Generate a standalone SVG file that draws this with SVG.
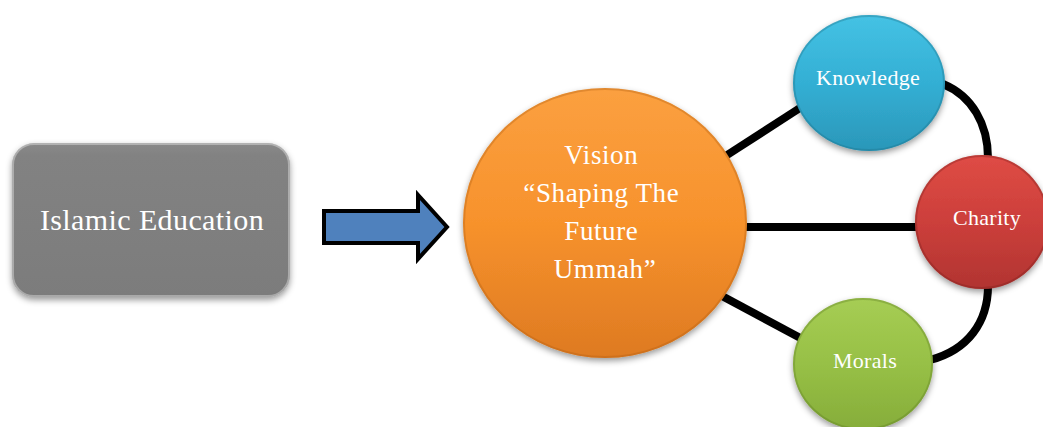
<svg xmlns="http://www.w3.org/2000/svg" width="1043" height="427" viewBox="0 0 1043 427">
  <defs>
    <style>
      .lbl { font-family: "Liberation Serif", "DejaVu Serif", serif; fill: #ffffff; text-anchor: middle; }
      .conn { fill: none; stroke: #000000; stroke-width: 8; stroke-linecap: butt; }
      .rim { fill: none; stroke-opacity: 0.35; stroke-width: 2; }
    </style>
    <filter id="shadow" x="-20%" y="-20%" width="140%" height="150%">
      <feDropShadow dx="0" dy="3" stdDeviation="3" flood-color="#000000" flood-opacity="0.4"/>
    </filter>
    <linearGradient id="gGray" x1="0" y1="0" x2="0" y2="1">
      <stop offset="0" stop-color="#8a8a8a"/>
      <stop offset="0.08" stop-color="#828282"/>
      <stop offset="1" stop-color="#7c7c7c"/>
    </linearGradient>
    <linearGradient id="gOrange" x1="0" y1="0" x2="0" y2="1">
      <stop offset="0" stop-color="#fba040"/>
      <stop offset="0.5" stop-color="#f7922c"/>
      <stop offset="1" stop-color="#de7a22"/>
    </linearGradient>
    <linearGradient id="gBlue" x1="0" y1="0" x2="0" y2="1">
      <stop offset="0" stop-color="#45c2e4"/>
      <stop offset="0.5" stop-color="#33afd4"/>
      <stop offset="1" stop-color="#2b97b9"/>
    </linearGradient>
    <linearGradient id="gRed" x1="0" y1="0" x2="0" y2="1">
      <stop offset="0" stop-color="#df4c45"/>
      <stop offset="0.5" stop-color="#cc3f3b"/>
      <stop offset="1" stop-color="#b13431"/>
    </linearGradient>
    <linearGradient id="gGreen" x1="0" y1="0" x2="0" y2="1">
      <stop offset="0" stop-color="#a6cd54"/>
      <stop offset="0.5" stop-color="#97c046"/>
      <stop offset="1" stop-color="#86ad3a"/>
    </linearGradient>
  </defs>

  <rect width="1043" height="427" fill="#ffffff"/>

  <!-- connectors between the vision and its three values -->
  <g id="connectors">
    <line class="conn" x1="724" y1="157" x2="803" y2="106"/>
    <line class="conn" x1="745" y1="227" x2="918" y2="227"/>
    <line class="conn" x1="722" y1="296" x2="806" y2="341"/>
    <path class="conn" d="M 943 84 C 972 96 988 124 988 158"/>
    <path class="conn" d="M 930 360 C 968 350 988 322 988 286"/>
  </g>

  <!-- block arrow -->
  <g id="arrow">
    <polygon points="324,211 418,211 418,195 447,227 418,259 418,243 324,243" fill="#4f81bd" stroke="#000000" stroke-width="4" stroke-linejoin="miter"/>
  </g>

  <g id="islamic-education">
    <rect x="12" y="143" width="278" height="154" rx="22" ry="22" fill="url(#gGray)" filter="url(#shadow)"/>
    <rect class="rim" x="13" y="144" width="276" height="152" rx="21" ry="21" stroke="#ffffff" stroke-opacity="0.25"/>
    <text class="lbl" x="152" y="230" font-size="30" letter-spacing="0.4">Islamic Education</text>
  </g>

  <g id="vision">
    <ellipse cx="605" cy="223" rx="142" ry="135" fill="url(#gOrange)" filter="url(#shadow)"/>
    <ellipse class="rim" cx="605" cy="223" rx="141" ry="134" stroke="#b35f12"/>
    <text class="lbl" font-size="27" letter-spacing="0.6">
      <tspan x="605" y="164">Vision</tspan>
      <tspan x="605" y="202">“Shaping The</tspan>
      <tspan x="605" y="240">Future</tspan>
      <tspan x="605" y="278">Ummah”</tspan>
    </text>
  </g>

  <g id="knowledge">
    <ellipse cx="869" cy="83" rx="76" ry="68" fill="url(#gBlue)" filter="url(#shadow)"/>
    <ellipse class="rim" cx="869" cy="83" rx="75" ry="67" stroke="#1d6f88"/>
    <text class="lbl" x="868" y="85" font-size="22" letter-spacing="0.3">Knowledge</text>
  </g>

  <g id="charity">
    <ellipse cx="982" cy="222" rx="67" ry="67" fill="url(#gRed)" filter="url(#shadow)"/>
    <ellipse class="rim" cx="982" cy="222" rx="66" ry="66" stroke="#7a1f1c"/>
    <text class="lbl" x="987" y="225" font-size="22" letter-spacing="0.3">Charity</text>
  </g>

  <g id="morals">
    <ellipse cx="863" cy="364" rx="70" ry="66" fill="url(#gGreen)" filter="url(#shadow)"/>
    <ellipse class="rim" cx="863" cy="364" rx="69" ry="65" stroke="#5c7a22"/>
    <text class="lbl" x="865" y="368" font-size="22" letter-spacing="0.3">Morals</text>
  </g>
</svg>
